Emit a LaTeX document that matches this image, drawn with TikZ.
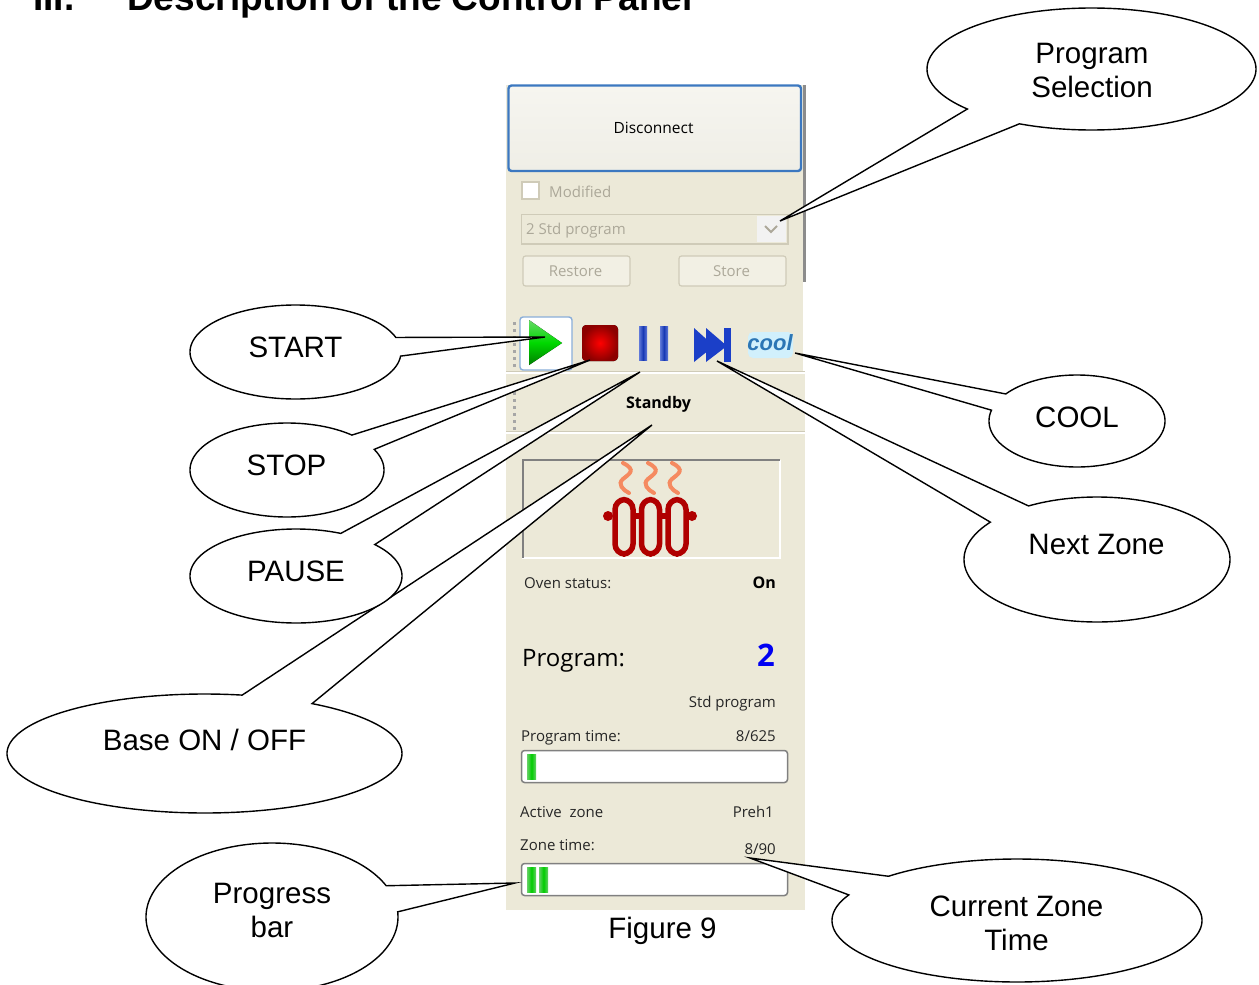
\documentclass[tikz,border=0pt]{standalone}
\usepackage{fontspec}
\setmainfont{Liberation Sans}
\newfontfamily\ui{Open Sans}
\usetikzlibrary{shapes.geometric}
\definecolor{panel}{HTML}{ECE9D8}
\definecolor{xpblue}{HTML}{3C78C0}
\definecolor{dimtext}{HTML}{ACA899}
\definecolor{dimline}{HTML}{CFCBB8}
\definecolor{heat}{HTML}{B00000}
\definecolor{steam}{HTML}{F58A60}
\definecolor{barblue}{HTML}{1B3FC8}
\definecolor{facetop}{HTML}{F6F5F0}
\definecolor{facebot}{HTML}{EFEEE6}
\tikzset{
  calloutshape/.style={draw=black,line width=1.4pt,fill=white,line join=miter},
  calltext/.style={font=\fontsize{29.5}{34}\selectfont,align=center,text=black,inner sep=0pt},
  uitext/.style={font=\ui\fontsize{15}{18}\selectfont,text=black!85,inner sep=0pt,anchor=base west},
  uiright/.style={uitext,anchor=base east},
  uibold/.style={font=\ui\bfseries\fontsize{16}{18}\selectfont,text=black,inner sep=0pt},
  uidim/.style={font=\ui\fontsize{15}{18}\selectfont,text=dimtext,inner sep=0pt},
  smallbtn/.style={draw=dimline,line width=1.2pt,rounded corners=2.5pt,fill=panel!70!white},
  progressbar/.style={draw=black!50,line width=1.5pt,rounded corners=3pt,fill=white},
  greenblock/.style={left color=green!70!black!60!white,right color=green!70!black!60!white,middle color=green!80!black,draw=none},
  heatline/.style={draw=heat,line width=5.5pt},
  steamline/.style={draw=steam,line width=4pt,line cap=round},
  barshape/.style={left color=barblue!70!white,right color=barblue!70!white,middle color=barblue!90!black,draw=none}
}
\newcommand{\callout}[7]{%
  \draw[calloutshape] plot[domain=#6:#7,samples=160] ({#2+#4*cos(\x)},{#3+#5*sin(\x)}) -- (#1) -- cycle;}
\begin{document}
\begin{tikzpicture}[x=1pt,y=-1pt]
\useasboundingbox (0,0) rectangle (1259,985);
\clip (0,0) rectangle (1259,985);
% heading
\node[font=\bfseries\fontsize{37}{38}\selectfont,anchor=base west,inner sep=0pt] (headnum) at (33,10) {III.};
\node[font=\bfseries\fontsize{37}{38}\selectfont,anchor=base west,inner sep=0pt] (headtxt) at (127,10) {Description of the Control Panel};
% panel
\fill[panel] (506,85) rectangle (805,910);
\fill[black!45] (803,85) rectangle (806,282);
\fill[white] (803,282) rectangle (806,372);
\draw[white,line width=1.2pt] (506,373) -- (805,373);
\draw[dimline,line width=1pt] (506,371.5) -- (805,371.5);
\draw[white,line width=1.2pt] (506,433) -- (805,433);
\draw[dimline,line width=1pt] (506,431.5) -- (805,431.5);
% disconnect button
\draw[draw=xpblue,line width=2.4pt,rounded corners=3pt,top color=facetop,bottom color=facebot] (508.5,85.5) rectangle (801,171);
\node[font=\ui\fontsize{15.5}{18}\selectfont,inner sep=0pt] (disc) at (653.5,127.5) {Disconnect};
% modified
\draw[draw=dimline,line width=1.2pt,fill=white] (522,182) rectangle (539,199);
\node[uidim,anchor=base west] (modif) at (549,197) {Modified};
% combo
\draw[draw=dimline,line width=1.2pt,fill=panel] (521.5,214.5) rectangle (788,244);
\node[uidim,anchor=base west] (combo) at (526,234) {2 Std program};
\fill[black!5] (757,216) rectangle (786,242);
\draw[draw=dimtext,line width=1.8pt] (765,226) -- (771,232) -- (777,226);
% restore store
\draw[smallbtn] (523,256) rectangle (630,286);
\node[uidim] (restore) at (575.5,271) {Restore};
\draw[smallbtn] (679,256) rectangle (786,286);
\node[uidim] (store) at (731.5,271) {Store};
% toolbar grips
\foreach \yy in {322,329,336,343,350,357,364}{\fill[black!35] (513,\yy) rectangle (516,\yy+3);}
\foreach \yy in {392,399,406,413,420,427}{\fill[black!35] (513,\yy) rectangle (516,\yy+3);}
% toolbar
\draw[draw=xpblue!60!white,line width=1.4pt,fill=white,rounded corners=3pt] (520,317) rectangle (572,370);
\fill[top color=green!75!black!60!white,bottom color=green!50!black,middle color=green!85!black] (529,320) -- (562,343) -- (529,365) -- cycle;
\fill[inner color=red,outer color=red!55!black,rounded corners=4pt] (582,325) rectangle (618,361);
\fill[barshape] (639,326) rectangle (647,360);
\fill[barshape] (660,326) rectangle (668,360);
\fill[barblue] (694,328) -- (714,346) -- (694,362) -- cycle;
\fill[barblue] (706,328) -- (727,346) -- (706,362) -- cycle;
\fill[barblue] (724,328) rectangle (731,362);
\fill[cyan!18,rounded corners=5pt] (748,332) rectangle (793,358);
\node[font=\bfseries\itshape\fontsize{22}{24}\selectfont,text=cyan!60!blue!85!black,inner sep=0pt] (cool) at (770,343) {cool};
% standby
\node[uibold] (standby) at (658.5,404) {Standby};
% heater frame
\draw[white,line width=1.5pt] (780,459.5) -- (780,558) -- (522,558);
\draw[black!50,line width=2pt] (522.5,558) -- (522.5,460) -- (780,460);
% heater
\foreach \xx in {613,639.5,666}{\draw[heatline,rounded corners=10pt] (\xx+2,499.5) rectangle (\xx+20,554);}
\draw[heatline] (633,516) -- (641,516);
\draw[heatline] (660,516) -- (668,516);
\fill[heat] (608,516) circle[radius=5];
\fill[heat] (692,516) circle[radius=5];
\foreach \xx in {623,648,672}{\draw[steamline] (\xx,463) .. controls (\xx+14,470) and (\xx+6,474) .. (\xx,479) .. controls (\xx-6,484) and (\xx,490) .. (\xx+6,493);}
% status
\node[uitext] (oven) at (524,588) {Oven status:};
\node[uibold,anchor=base east] (on) at (776,588) {On};
\node[font=\ui\fontsize{24}{27}\selectfont,anchor=base west,inner sep=0pt] (prog) at (522,666) {Program:};
\node[font=\ui\bfseries\fontsize{31}{33}\selectfont,text=blue!95!black,anchor=base east,inner sep=0pt] (prognum) at (775,666) {2};
\node[uiright] (stdp) at (776,707) {Std program};
\node[uitext] (ptime) at (521,741) {Program time:};
\node[uiright] (pval) at (776,741) {8/625};
\draw[progressbar] (521.5,750.5) rectangle (787.5,782.5);
\fill[greenblock] (527,754) rectangle (536,779);
\node[uitext] (azone) at (520,817) {Active\ \ zone};
\node[uiright] (aval) at (774,817) {Preh1};
\node[uitext] (ztime) at (520,850) {Zone time:};
\node[uiright] (zval) at (776,854) {8/90};
\draw[progressbar] (521.5,863.5) rectangle (787.5,895.5);
\fill[greenblock] (527,867) rectangle (536,892);
\fill[greenblock] (539,867) rectangle (548,892);
\node[font=\fontsize{29.5}{34}\selectfont,inner sep=0pt] (figure) at (662.5,931) {Figure 9};
% callout tips
\coordinate (tipprog) at (780,221);
\coordinate (tipstart) at (545,337);
\coordinate (tipstop) at (590,360);
\coordinate (tippause) at (640,372);
\coordinate (tipbase) at (652,425);
\coordinate (tipbar) at (515,883);
\coordinate (tipzone) at (750,858);
\coordinate (tipcool) at (795,353);
\coordinate (tipnext) at (717,361);
% callouts
\callout{tipprog}{1091.5}{69}{164.5}{61}{139}{476}
\node[calltext] (cprog) at (1092,70) {Program\\Selection};
\callout{tipstart}{295.5}{352}{105.5}{47}{5}{342}
\node[calltext] (cstart) at (295.5,347) {START};
\callout{tipstop}{287}{470}{97}{47}{-26}{312}
\node[calltext] (cstop) at (286.5,465) {STOP};
\callout{tipbase}{204.5}{753.5}{197.5}{59.5}{-57}{281}
\callout{tippause}{296}{576}{106}{47}{-42}{295}
\node[calltext] (cpause) at (296,571) {PAUSE};
\node[calltext] (cbase) at (204.5,740) {Base ON / OFF};
\callout{tipbar}{272}{917}{126}{74}{-4}{335}
\node[calltext] (cbar) at (272,910) {Progress\\bar};
\callout{tipzone}{1017}{920.5}{185}{61.5}{226}{564.6}
\node[calltext] (czone) at (1016.5,923) {Current Zone\\Time};
\callout{tipcool}{1077}{421}{88}{46}{216}{553.6}
\node[calltext] (ccool) at (1077,417) {COOL};
\callout{tipnext}{1097}{559.5}{133}{62.5}{239}{576.7}
\node[calltext] (cnext) at (1096.5,544) {Next Zone};
\end{tikzpicture}
\end{document}
